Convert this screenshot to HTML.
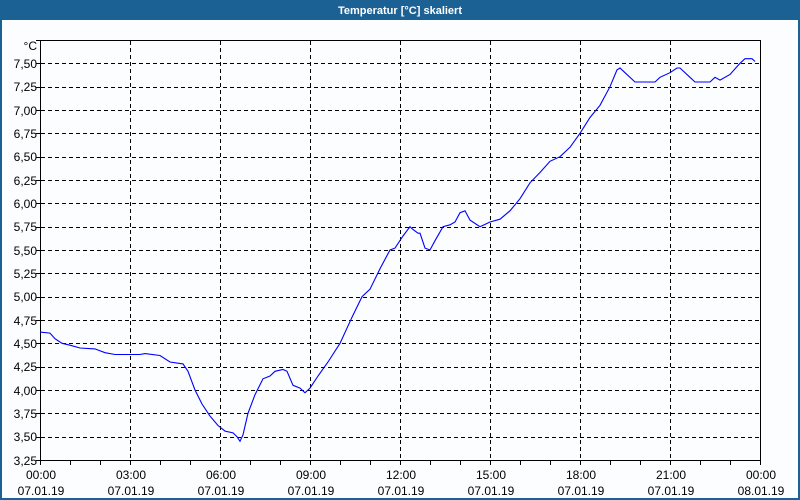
<!DOCTYPE html>
<html><head><meta charset="utf-8"><style>
html,body{margin:0;padding:0;width:800px;height:500px;overflow:hidden;background:#fff}
svg{display:block}
text{font-family:"Liberation Sans","DejaVu Sans",sans-serif;font-size:12px;fill:#000}
</style></head><body>
<svg width="800" height="500" xmlns="http://www.w3.org/2000/svg">
<rect x="0" y="0" width="800" height="500" fill="#1c6194"/>
<rect x="2" y="20" width="796" height="478" fill="#fcfdfe"/>
<text x="400" y="14" text-anchor="middle" fill="#fff" style="fill:#fff;font-weight:bold;font-size:11px">Temperatur [°C] skaliert</text>
<g id="grid" stroke="#000" stroke-dasharray="4,3" stroke-width="1"></g>
<rect x="40.5" y="40.5" width="720" height="420" fill="none" stroke="#000"/>
<g id="ticks" stroke="#000"></g>
<polyline id="line" fill="none" stroke="#0000ff" stroke-width="1.1"/>
<g id="yl" text-anchor="end">
<text x="37" y="50">°C</text>
<text x="37" y="68">7,50</text>
<text x="37" y="91">7,25</text>
<text x="37" y="115">7,00</text>
<text x="37" y="138">6,75</text>
<text x="37" y="161">6,50</text>
<text x="37" y="185">6,25</text>
<text x="37" y="208">6,00</text>
<text x="37" y="231">5,75</text>
<text x="37" y="255">5,50</text>
<text x="37" y="278">5,25</text>
<text x="37" y="301">5,00</text>
<text x="37" y="325">4,75</text>
<text x="37" y="348">4,50</text>
<text x="37" y="371">4,25</text>
<text x="37" y="395">4,00</text>
<text x="37" y="418">3,75</text>
<text x="37" y="441">3,50</text>
<text x="37" y="465">3,25</text>
</g>
<g text-anchor="middle">
<text x="41" y="479">00:00</text><text x="41" y="495">07.01.19</text>
<text x="131" y="479">03:00</text><text x="131" y="495">07.01.19</text>
<text x="221" y="479">06:00</text><text x="221" y="495">07.01.19</text>
<text x="311" y="479">09:00</text><text x="311" y="495">07.01.19</text>
<text x="401" y="479">12:00</text><text x="401" y="495">07.01.19</text>
<text x="491" y="479">15:00</text><text x="491" y="495">07.01.19</text>
<text x="581" y="479">18:00</text><text x="581" y="495">07.01.19</text>
<text x="671" y="479">21:00</text><text x="671" y="495">07.01.19</text>
<text x="761" y="479">00:00</text><text x="761" y="495">08.01.19</text>
</g>
</svg>
<script>
var g=document.getElementById('grid'),t=document.getElementById('ticks'),ns='http://www.w3.org/2000/svg';
function L(p,x1,y1,x2,y2){var l=document.createElementNS(ns,'line');l.setAttribute('x1',x1);l.setAttribute('y1',y1);l.setAttribute('x2',x2);l.setAttribute('y2',y2);p.appendChild(l);}
function Y(v){return 460-(v-3.25)*(420/4.5);}
for(var v=3.5;v<7.6;v+=0.25){var y=Math.round(Y(v))+0.5;L(g,41,y,760,y);L(t,36,y,40,y);}
L(t,36,40.5,40,40.5);L(t,36,460.5,40,460.5);
for(var h=0;h<=24;h++){var x=40.5+h*30;L(t,x,460,x,465);if(h%3==0&&h>0&&h<24)L(g,x,41,x,460);}
var d=[[40,4.62],[50,4.61],[55,4.55],[62,4.5],[70,4.48],[80,4.45],[95,4.44],[105,4.4],[115,4.38],[140,4.38],[145,4.39],[160,4.37],[170,4.3],[183,4.28],[188,4.2],[195,4.0],[202,3.85],[210,3.72],[218,3.62],[225,3.56],[233,3.54],[237,3.5],[240,3.45],[243,3.52],[248,3.75],[255,3.95],[263,4.12],[270,4.15],[275,4.2],[283,4.22],[287,4.2],[293,4.05],[300,4.02],[305,3.97],[310,4.02],[318,4.15],[328,4.3],[340,4.5],[352,4.78],[362,5.0],[370,5.08],[380,5.3],[390,5.5],[395,5.52],[403,5.65],[410,5.75],[413,5.72],[418,5.68],[420,5.68],[425,5.52],[430,5.5],[435,5.6],[443,5.75],[450,5.77],[455,5.8],[460,5.9],[465,5.92],[470,5.82],[480,5.75],[490,5.8],[500,5.83],[510,5.92],[520,6.05],[530,6.22],[540,6.33],[550,6.45],[560,6.5],[570,6.6],[580,6.75],[590,6.92],[600,7.05],[610,7.25],[617,7.43],[620,7.45],[625,7.4],[635,7.3],[655,7.3],[660,7.35],[670,7.4],[677,7.45],[680,7.45],[690,7.35],[695,7.3],[710,7.3],[715,7.35],[720,7.32],[730,7.38],[740,7.5],[745,7.55],[752,7.55],[755,7.52]];
document.getElementById('line').setAttribute('points',d.map(function(p){return p[0]+','+Y(p[1]).toFixed(1)}).join(' '));
</script>
</body></html>
